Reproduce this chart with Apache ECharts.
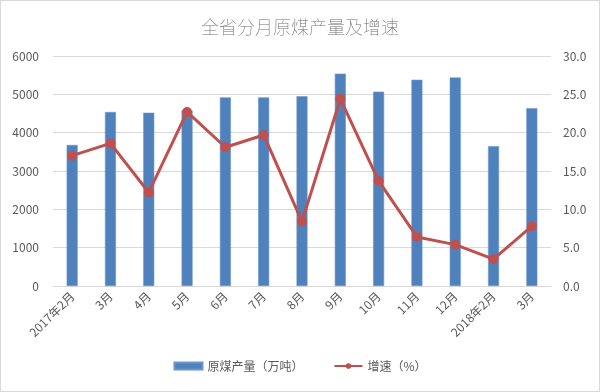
<!DOCTYPE html>
<html><head><meta charset="utf-8">
<script src="https://cdn.jsdelivr.net/npm/echarts@6/dist/echarts.min.js"></script>
<style>html,body{margin:0;padding:0;background:#fff}#c{width:600px;height:392px;box-sizing:border-box;border:1px solid #d9d9d9}</style>
</head><body><div id="c"></div>
<script>
const categories = ['2017年2月','3月','4月','5月','6月','7月','8月','9月','10月','11月','12月','2018年2月','3月'];
const output = [3680, 4540, 4520, 4580, 4920, 4920, 4950, 5540, 5070, 5380, 5440, 3650, 4640];
const growth = [17.0, 18.6, 12.2, 22.7, 18.1, 19.7, 8.4, 24.4, 13.7, 6.4, 5.4, 3.5, 7.8];
const leftTicks = [0, 6000, 1000];
const rightTicks = [0, 30, 5];

const font = '"Noto Sans CJK SC", "Microsoft YaHei", sans-serif';
const chart = echarts.init(document.getElementById('c'), null, {renderer: 'canvas'});
chart.setOption({
  animation: false,
  textStyle: {fontFamily: font},
  title: {
    text: '全省分月原煤产量及增速', left: 'center', top: 12,
    textStyle: {fontSize: 18, fontWeight: 'lighter', color: '#6b6b6b', fontFamily: font}
  },
  legend: {
    bottom: 14, left: 'center', itemGap: 30, itemWidth: 28, itemHeight: 7,
    textStyle: {fontSize: 12, color: '#595959', fontFamily: font},
    data: [
      {name: '原煤产量（万吨）', icon: 'rect'},
      {name: '增速（%）'}
    ]
  },
  grid: {left: 52, right: 48, top: 55, bottom: 105},
  xAxis: {
    type: 'category', data: categories,
    axisLine: {lineStyle: {color: '#d9d9d9'}},
    axisTick: {show: false},
    axisLabel: {rotate: 45, color: '#595959', fontSize: 12, margin: 8, interval: 0, fontFamily: font}
  },
  yAxis: [
    {type: 'value', min: leftTicks[0], max: leftTicks[1], interval: leftTicks[2],
     axisLine: {show: false}, axisTick: {show: false},
     axisLabel: {color: '#595959', fontSize: 12, margin: 14, fontFamily: font, formatter: v => String(v)},
     splitLine: {lineStyle: {color: '#d9d9d9'}}},
    {type: 'value', min: rightTicks[0], max: rightTicks[1], interval: rightTicks[2],
     axisLine: {show: false}, axisTick: {show: false},
     axisLabel: {color: '#595959', fontSize: 12, margin: 12, fontFamily: font, formatter: v => v.toFixed(1)},
     splitLine: {show: false}}
  ],
  series: [
    {name: '原煤产量（万吨）', type: 'bar', data: output, barWidth: 11,
     itemStyle: {color: '#4f81bd', borderColor: '#6a96cc', borderWidth: 0.6}},
    {name: '增速（%）', type: 'line', yAxisIndex: 1, data: growth,
     symbol: 'circle', symbolSize: 10,
     lineStyle: {color: '#c0504d', width: 3},
     itemStyle: {color: '#c0504d'}}
  ]
});
</script></body></html>
